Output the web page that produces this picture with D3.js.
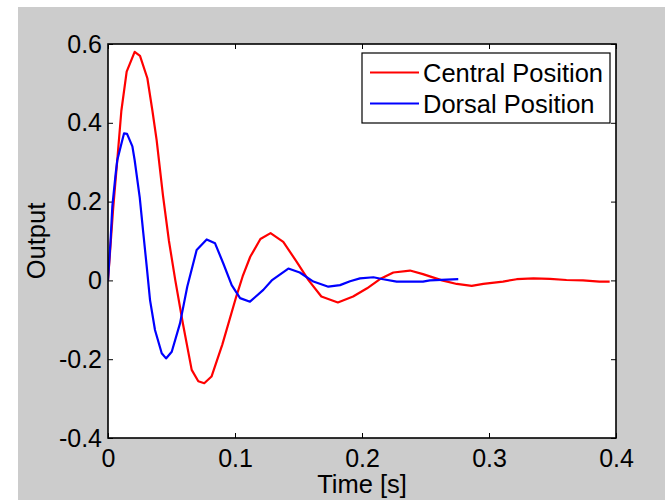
<!DOCTYPE html>
<html>
<head>
<meta charset="utf-8">
<script src="https://cdn.jsdelivr.net/npm/d3@7"></script>
<style>
  html, body { margin: 0; padding: 0; background: #ffffff; }
  svg { display: block; }
  text { font-family: "Liberation Sans", Arial, sans-serif; fill: #000; }
</style>
</head>
<body>
<svg id="chart" width="665" height="500"></svg>
<script>
// ---- Data ----
const centralT = [0, 0.004, 0.0073, 0.0105, 0.0147, 0.021, 0.0252, 0.031, 0.035, 0.0383, 0.0433, 0.048, 0.053, 0.059, 0.0659, 0.0711, 0.0758, 0.0815, 0.090, 0.101, 0.106, 0.112, 0.120, 0.128, 0.138, 0.1486, 0.158, 0.168, 0.181, 0.193, 0.204, 0.215, 0.2247, 0.2378, 0.248, 0.263, 0.2746, 0.2864, 0.2955, 0.311, 0.3218, 0.335, 0.348, 0.361, 0.374, 0.387, 0.395];
const centralV = [0, 0.18, 0.305, 0.43, 0.53, 0.58, 0.57, 0.513, 0.43, 0.356, 0.215, 0.1, 0.0, -0.11, -0.227, -0.256, -0.261, -0.244, -0.163, -0.041, 0.01, 0.06, 0.105, 0.12, 0.098, 0.047, 0.0, -0.041, -0.056, -0.041, -0.02, 0.005, 0.02, 0.025, 0.016, 0.0, -0.009, -0.014, -0.009, -0.003, 0.003, 0.005, 0.004, 0.001, 0.0, -0.003, -0.003];

const dorsalT = [0, 0.002, 0.0034, 0.006, 0.0073, 0.01, 0.0126, 0.015, 0.0192, 0.021, 0.025, 0.0278, 0.0305, 0.0331, 0.037, 0.0423, 0.0457, 0.0502, 0.0567, 0.0624, 0.0698, 0.0777, 0.0843, 0.0908, 0.0974, 0.104, 0.1118, 0.1223, 0.1289, 0.142, 0.151, 0.1617, 0.1735, 0.1827, 0.1906, 0.1984, 0.209, 0.2167, 0.2273, 0.248, 0.2535, 0.2758];
const dorsalV = [0, 0.1, 0.187, 0.27, 0.305, 0.34, 0.373, 0.372, 0.34, 0.305, 0.21, 0.12, 0.035, -0.05, -0.126, -0.185, -0.198, -0.181, -0.109, -0.016, 0.077, 0.104, 0.094, 0.043, -0.012, -0.045, -0.054, -0.024, 0.0, 0.03, 0.02, -0.003, -0.016, -0.012, -0.002, 0.005, 0.008, 0.003, -0.003, -0.003, 0.0, 0.003];

const seriesNames = ["Central Position", "Dorsal Position"];
const seriesColors = ["#ff0000", "#0000ff"];
const xTicks = [0, 0.1, 0.2, 0.3, 0.4];
const yTicks = [-0.4, -0.2, 0, 0.2, 0.4, 0.6];
const xLabel = "Time [s]";
const yLabel = "Output";

// ---- Layout ----
const svg = d3.select("#chart");
const L = 108, R = 616, T = 44, B = 438;
const FS = 25.5, TFS = 25;

svg.append("rect").attr("x", 18).attr("y", 7).attr("width", 665 - 18).attr("height", 500 - 7).attr("fill", "#cccccc");
svg.append("rect").attr("x", L).attr("y", T).attr("width", R - L).attr("height", B - T).attr("fill", "#ffffff");

const x = d3.scaleLinear().domain([0, 0.4]).range([L, R]);
const y = d3.scaleLinear().domain([-0.4, 0.6]).range([B, T]);

const fmt = d => String(Math.round(d * 10) / 10);
const tickLen = 5;

// Bottom axis
const gx = svg.append("g").attr("transform", `translate(0,${B})`)
  .call(d3.axisBottom(x).tickValues(xTicks).tickFormat(fmt).tickSizeInner(-tickLen).tickSizeOuter(0).tickPadding(11));
gx.select(".domain").remove();
gx.selectAll("line").attr("stroke", "#000");
gx.selectAll("text").attr("font-size", TFS).attr("font-family", "Liberation Sans, Arial, sans-serif");

// Top axis ticks
const gxt = svg.append("g").attr("transform", `translate(0,${T})`)
  .call(d3.axisTop(x).tickValues(xTicks).tickFormat("").tickSizeInner(-tickLen).tickSizeOuter(0));
gxt.select(".domain").remove();
gxt.selectAll("line").attr("stroke", "#000");

// Left axis
const gy = svg.append("g").attr("transform", `translate(${L},0)`)
  .call(d3.axisLeft(y).tickValues(yTicks).tickFormat(fmt).tickSizeInner(-tickLen).tickSizeOuter(0).tickPadding(6));
gy.select(".domain").remove();
gy.selectAll("line").attr("stroke", "#000");
gy.selectAll("text").attr("font-size", TFS).attr("font-family", "Liberation Sans, Arial, sans-serif");

// Right axis ticks
const gyr = svg.append("g").attr("transform", `translate(${R},0)`)
  .call(d3.axisRight(y).tickValues(yTicks).tickFormat("").tickSizeInner(-tickLen).tickSizeOuter(0));
gyr.select(".domain").remove();
gyr.selectAll("line").attr("stroke", "#000");

// Lines
const line = d3.line().x(d => x(d[0])).y(d => y(d[1]));
svg.append("clipPath").attr("id", "plotclip").append("rect")
  .attr("x", L).attr("y", T).attr("width", R - L).attr("height", B - T);
const series = [
  d3.zip(centralT, centralV),
  d3.zip(dorsalT, dorsalV)
];
series.forEach((s, i) => {
  svg.append("path").datum(s)
    .attr("d", line)
    .attr("fill", "none")
    .attr("stroke", seriesColors[i])
    .attr("stroke-width", 2.2)
    .attr("stroke-linejoin", "round")
    .attr("clip-path", "url(#plotclip)");
});

// Box
svg.append("rect").attr("x", L).attr("y", T).attr("width", R - L).attr("height", B - T)
  .attr("fill", "none").attr("stroke", "#000").attr("stroke-width", 1.6);

// Axis labels
svg.append("text").attr("x", (L + R) / 2).attr("y", 493).attr("text-anchor", "middle")
  .attr("font-size", FS).text(xLabel);
svg.append("text").attr("transform", `translate(45,${(T + B) / 2}) rotate(-90)`)
  .attr("text-anchor", "middle").attr("font-size", FS).text(yLabel);

// Legend
const lg = svg.append("g");
lg.append("rect").attr("x", 362).attr("y", 53).attr("width", 248).attr("height", 70)
  .attr("fill", "#fff").attr("stroke", "#000").attr("stroke-width", 1.2);
const rowY = [72.5, 103.5];
seriesNames.forEach((n, i) => {
  lg.append("line").attr("x1", 370).attr("x2", 419).attr("y1", rowY[i]).attr("y2", rowY[i])
    .attr("stroke", seriesColors[i]).attr("stroke-width", 2.2);
  lg.append("text").attr("x", 423).attr("y", rowY[i] + 9).attr("font-size", FS).text(n);
});
</script>
</body>
</html>
